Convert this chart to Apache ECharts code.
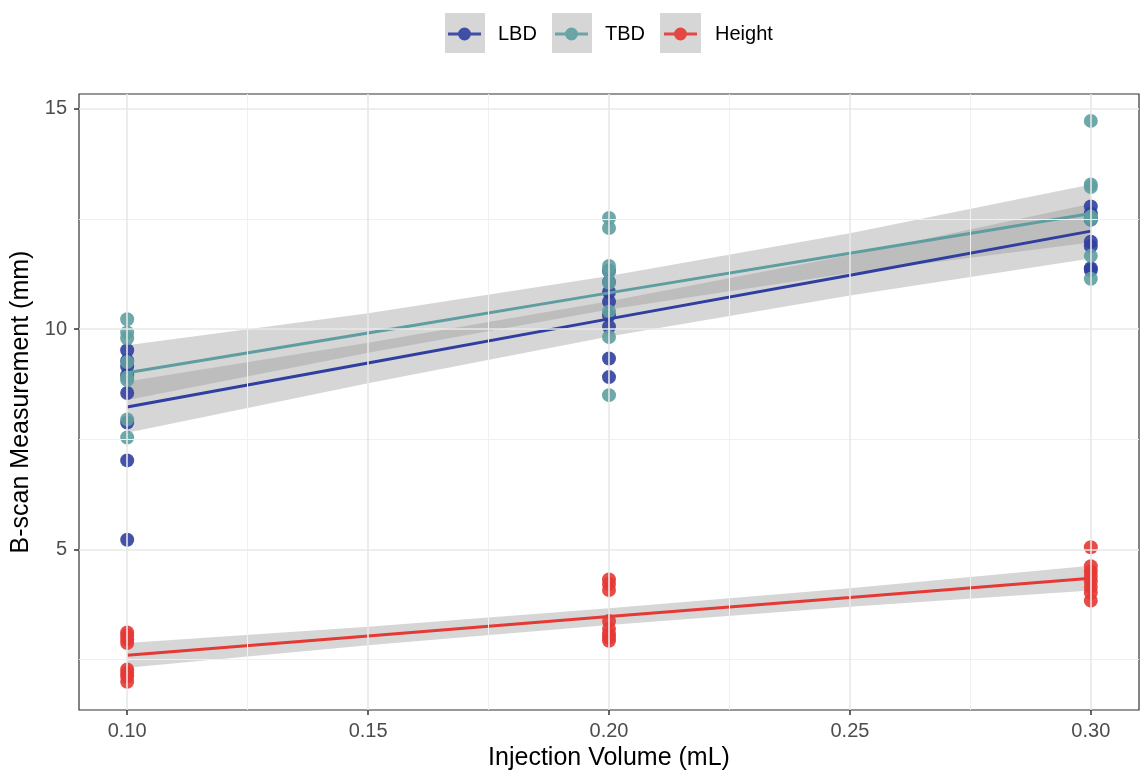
<!DOCTYPE html>
<html>
<head>
<meta charset="utf-8">
<title>B-scan Measurement vs Injection Volume</title>
<script src="https://cdn.jsdelivr.net/npm/echarts@6/dist/echarts.min.js"></script>
<style>
  html, body { margin: 0; padding: 0; background: #fff; }
  #chart { width: 1143px; height: 783px; }
</style>
</head>
<body>
<div id="chart"></div>
<script>
// injection volumes (mL)
const volumes = [0.1, 0.2, 0.3]

const lbd = [
  [9.52, 9.28, 9.15, 8.95, 8.55, 7.88, 7.02, 5.22],
  [11.32, 11.07, 10.84, 10.62, 10.31, 10.05, 9.33, 8.91],
  [12.78, 12.62, 12.52, 12.48, 11.98, 11.88, 11.38, 11.34]
]
const tbd = [
  [10.22, 9.92, 9.79, 9.25, 8.9, 8.84, 7.95, 7.54],
  [12.52, 12.29, 11.43, 11.3, 11.05, 10.4, 9.82, 8.5],
  [14.72, 13.28, 13.22, 12.55, 12.48, 11.66, 11.14]
]
const height = [
  [3.12, 3.05, 2.96, 2.88, 2.28, 2.2, 2.12, 2.0],
  [4.32, 4.22, 4.08, 3.38, 3.2, 3.08, 3.0, 2.93],
  [5.05, 4.62, 4.5, 4.4, 4.28, 4.15, 4.02, 3.84]
]

// fitted lines (lm) and 95% bands, read at these volumes
const fitX = [0.1, 0.15, 0.2, 0.25, 0.3]
const lbdFit = [8.23, 9.23, 10.23, 11.22, 12.22]
const lbdLow = [7.65, 8.77, 9.83, 10.76, 11.6]
const lbdHigh = [8.81, 9.69, 10.63, 11.68, 12.84]
const tbdFit = [9.01, 9.91, 10.82, 11.72, 12.62]
const tbdLow = [8.39, 9.46, 10.44, 11.27, 11.96]
const tbdHigh = [9.63, 10.36, 11.2, 12.17, 13.28]
const heightFit = [2.6, 3.04, 3.48, 3.91, 4.35]
const heightLow = [2.32, 2.83, 3.29, 3.7, 4.07]
const heightHigh = [2.88, 3.25, 3.67, 4.12, 4.63]

// axis ticks and grid
const xTicks = [0.1, 0.15, 0.2, 0.25, 0.3]
const xMinor = [0.125, 0.175, 0.225, 0.275]
const yTicks = [5, 10, 15]
const yMinor = [2.5, 7.5, 12.5]

const colors = { LBD: '#303f9f', TBD: '#5f9ea0', Height: '#e53935' }
const bandFill = 'rgba(153, 153, 153, 0.4)'
const font = '"Liberation Sans", Arial, Helvetica, sans-serif'

const toPoints = (groups) =>
  groups.flatMap((vals, i) => vals.map((v) => [volumes[i], v]))

const scatter = (name, groups) => ({
  type: 'scatter',
  name,
  data: toPoints(groups),
  symbolSize: 14,
  itemStyle: { color: colors[name], opacity: 0.9 },
  silent: true
})

const band = (name, low, high) => ({
  type: 'custom',
  name,
  silent: true,
  data: [[fitX[0], low[0]]],
  renderItem: (params, api) => {
    const pts = fitX.map((x, i) => api.coord([x, high[i]]))
    for (let i = fitX.length - 1; i >= 0; i--) pts.push(api.coord([fitX[i], low[i]]))
    return { type: 'polygon', shape: { points: pts }, style: { fill: bandFill } }
  }
})

const fitLine = (name, fit) => ({
  type: 'line',
  name,
  data: fitX.map((x, i) => [x, fit[i]]),
  showSymbol: false,
  symbol: 'none',
  lineStyle: { color: colors[name], width: 3 },
  silent: true
})

// legend key: line with a dot in the middle
const keyIcon = 'path://M0,5.5L33,5.5L33,8.5L0,8.5Z M10,7A6.5,6.5 0 1,1 23,7A6.5,6.5 0 1,1 10,7Z'

const legendItem = (name, left, pad) => ({
  data: [{ name, icon: keyIcon }],
  left,
  top: 24,
  padding: 0,
  itemWidth: 33,
  itemHeight: 14,
  selectedMode: false,
  textStyle: { fontSize: 20, color: '#000', fontFamily: font, padding: [0, 0, 0, pad] }
})

const minorStyle = { color: '#f0f0f0', width: 1, type: 'solid' }
const majorStyle = { color: '#e8e8e8', width: 1.6, type: 'solid' }

const gridLines = {
  type: 'line',
  data: [],
  silent: true,
  markLine: {
    silent: true,
    symbol: 'none',
    precision: 4,
    label: { show: false },
    animation: false,
    data: [
      ...xMinor.map((v) => ({ xAxis: v, lineStyle: minorStyle })),
      ...yMinor.map((v) => ({ yAxis: v, lineStyle: minorStyle })),
      ...xTicks.map((v) => ({ xAxis: v, lineStyle: majorStyle })),
      ...yTicks.map((v) => ({ yAxis: v, lineStyle: majorStyle }))
    ]
  }
}

const chart = echarts.init(document.getElementById('chart'), null, { renderer: 'canvas' })
chart.setOption({
  animation: false,
  backgroundColor: '#fff',
  textStyle: { fontFamily: font },
  legend: [
    legendItem('LBD', 448, 12),
    legendItem('TBD', 555, 12),
    legendItem('Height', 664, 13)
  ],
  graphic: [
    { type: 'rect', shape: { x: 445, y: 13, width: 40, height: 40 }, style: { fill: bandFill }, z: 1, silent: true },
    { type: 'rect', shape: { x: 552, y: 13, width: 40, height: 40 }, style: { fill: bandFill }, z: 1, silent: true },
    { type: 'rect', shape: { x: 660, y: 13, width: 41, height: 40 }, style: { fill: bandFill }, z: 1, silent: true }
  ],
  grid: {
    left: 79,
    right: 4,
    top: 94,
    bottom: 73,
    show: true,
    borderColor: '#333',
    borderWidth: 1.2,
    backgroundColor: 'transparent'
  },
  xAxis: {
    type: 'value',
    min: 0.09,
    max: 0.31,
    name: 'Injection Volume (mL)',
    nameLocation: 'middle',
    nameGap: 34,
    nameTextStyle: { fontSize: 25, color: '#000', fontFamily: font },
    axisLine: { show: false },
    axisTick: { show: true, customValues: xTicks, length: 5, lineStyle: { color: '#333', width: 1.5 } },
    axisLabel: {
      customValues: xTicks,
      formatter: (v) => v.toFixed(2),
      fontSize: 20,
      color: '#4d4d4d',
      margin: 11
    },
    splitLine: { show: false }
  },
  yAxis: {
    type: 'value',
    min: 1.36,
    max: 15.33,
    name: 'B-scan Measurement (mm)',
    nameLocation: 'middle',
    nameGap: 42,
    nameTextStyle: { fontSize: 25, color: '#000', fontFamily: font },
    axisLine: { show: false },
    axisTick: { show: true, customValues: yTicks, length: 5, lineStyle: { color: '#333', width: 1.5 } },
    axisLabel: { customValues: yTicks, fontSize: 20, color: '#4d4d4d', margin: 12 },
    splitLine: { show: false }
  },
  series: [
    gridLines,
    scatter('LBD', lbd),
    scatter('TBD', tbd),
    scatter('Height', height),
    band('LBD', lbdLow, lbdHigh),
    fitLine('LBD', lbdFit),
    band('TBD', tbdLow, tbdHigh),
    fitLine('TBD', tbdFit),
    band('Height', heightLow, heightHigh),
    fitLine('Height', heightFit)
  ]
})
</script>
</body>
</html>
